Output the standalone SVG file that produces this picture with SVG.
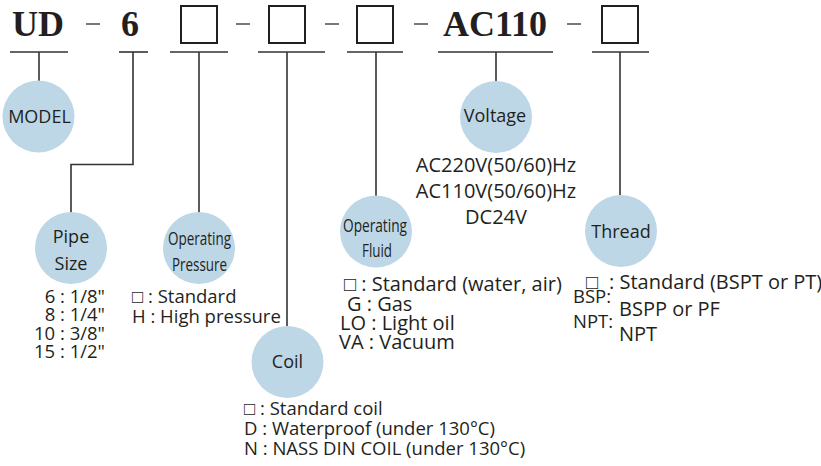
<svg xmlns="http://www.w3.org/2000/svg" width="821" height="466" viewBox="0 0 821 466">
<style>
.hd{font-family:"Liberation Serif",serif;font-weight:bold;font-size:36px;fill:#231f20}
.bx{fill:none;stroke:#231f20;stroke-width:2}
.dash{stroke:#555;stroke-width:1.6}
.ln{stroke:#333;stroke-width:1.6;fill:none}
.c{fill:#bdd7e7}
.lb{font-family:"Open Sans","Liberation Sans",sans-serif;font-size:18px;fill:#231f20;text-anchor:middle}
.t{font-family:"Open Sans","Liberation Sans",sans-serif;font-size:18.5px;fill:#231f20}
.w{font-size:20px}
</style>
<rect width="821" height="466" fill="#fff"/>
<g id="header">
<text class="hd" x="12" y="36">UD</text>
<line class="dash" x1="86" y1="24" x2="100" y2="24"/>
<text class="hd" x="130" y="36" text-anchor="middle">6</text>
<rect class="bx" x="181" y="6" width="36" height="37"/>
<line class="dash" x1="236" y1="24" x2="250" y2="24"/>
<rect class="bx" x="269" y="6" width="36" height="37"/>
<line class="dash" x1="325" y1="24" x2="339" y2="24"/>
<rect class="bx" x="357" y="6" width="36" height="37"/>
<line class="dash" x1="414" y1="24" x2="428" y2="24"/>
<text class="hd" x="495" y="36" text-anchor="middle">AC110</text>
<line class="dash" x1="567" y1="24" x2="581" y2="24"/>
<rect class="bx" x="602" y="6" width="36" height="37"/>
</g>
<g id="connectors">
<line class="ln" x1="10" y1="52" x2="68" y2="52"/>
<line class="ln" x1="39" y1="52" x2="39" y2="81"/>
<line class="ln" x1="119" y1="52" x2="148" y2="52"/>
<polyline class="ln" points="133,52 133,164.5 71,164.5 71,213"/>
<line class="ln" x1="170" y1="52" x2="228" y2="52"/>
<line class="ln" x1="199" y1="52" x2="199" y2="213"/>
<line class="ln" x1="258" y1="52" x2="325" y2="52"/>
<line class="ln" x1="287" y1="52" x2="287" y2="327"/>
<line class="ln" x1="347" y1="52" x2="403" y2="52"/>
<line class="ln" x1="376" y1="52" x2="376" y2="196"/>
<line class="ln" x1="438" y1="52" x2="553" y2="52"/>
<line class="ln" x1="496" y1="52" x2="496" y2="82"/>
<line class="ln" x1="592" y1="52" x2="649" y2="52"/>
<line class="ln" x1="620" y1="52" x2="620" y2="195"/>
</g>
<g id="model">
<circle class="c" cx="38.5" cy="116.5" r="36"/>
<text class="lb" x="39.5" y="123">MODEL</text>
</g>
<g id="pipe-size">
<circle class="c" cx="71" cy="248" r="36"/>
<text class="lb" x="71" y="243">Pipe</text>
<text class="lb" x="71" y="270">Size</text>
<g class="t" text-anchor="end" font-size="19.5">
<text x="105" y="303">6 : 1/8"</text>
<text x="105" y="321">8 : 1/4"</text>
<text x="105" y="340">10 : 3/8"</text>
<text x="105" y="358">15 : 1/2"</text>
</g>
</g>
<g id="operating-pressure">
<circle class="c" cx="199" cy="248" r="36"/>
<text class="lb" x="199.5" y="245" font-size="19" textLength="63" lengthAdjust="spacingAndGlyphs">Operating</text>
<text class="lb" x="199.5" y="271" font-size="19" textLength="55" lengthAdjust="spacingAndGlyphs">Pressure</text>
<text class="t" x="132" y="303">□ : Standard</text>
<text class="t" x="132" y="323">H : High pressure</text>
</g>
<g id="coil">
<circle class="c" cx="287.5" cy="362" r="36"/>
<text class="lb" x="287.5" y="368">Coil</text>
<text class="t" x="244" y="415">□ : Standard coil</text>
<text class="t" x="244" y="435">D : Waterproof (under 130°C)</text>
<text class="t" x="244" y="455">N : NASS DIN COIL (under 130°C)</text>
</g>
<g id="operating-fluid">
<circle class="c" cx="376" cy="231.5" r="36"/>
<text class="lb" x="375" y="232" font-size="19" textLength="64" lengthAdjust="spacingAndGlyphs">Operating</text>
<text class="lb" x="377" y="257" font-size="19" textLength="30" lengthAdjust="spacingAndGlyphs">Fluid</text>
<text class="t w" x="344" y="291">□ : Standard (water, air)</text>
<text class="t w" x="347" y="311">G : Gas</text>
<text class="t w" x="340" y="330">LO : Light oil</text>
<text class="t w" x="339" y="349">VA : Vacuum</text>
</g>
<g id="voltage">
<circle class="c" cx="496" cy="117" r="36"/>
<text class="lb" x="495" y="122">Voltage</text>
<g class="t w" text-anchor="middle">
<text x="496" y="172">AC220V(50/60)Hz</text>
<text x="496" y="198">AC110V(50/60)Hz</text>
<text x="496" y="224">DC24V</text>
</g>
</g>
<g id="thread">
<circle class="c" cx="621" cy="231" r="36"/>
<text class="lb" x="621" y="238">Thread</text>
<text class="t w" x="586" y="289">□</text>
<text class="t w" x="609" y="289">: Standard (BSPT or PT)</text>
<text class="t" x="573" y="303">BSP:</text>
<text class="t w" x="619" y="316">BSPP or PF</text>
<text class="t" x="573" y="328">NPT:</text>
<text class="t w" x="619" y="341">NPT</text>
</g>
</svg>
